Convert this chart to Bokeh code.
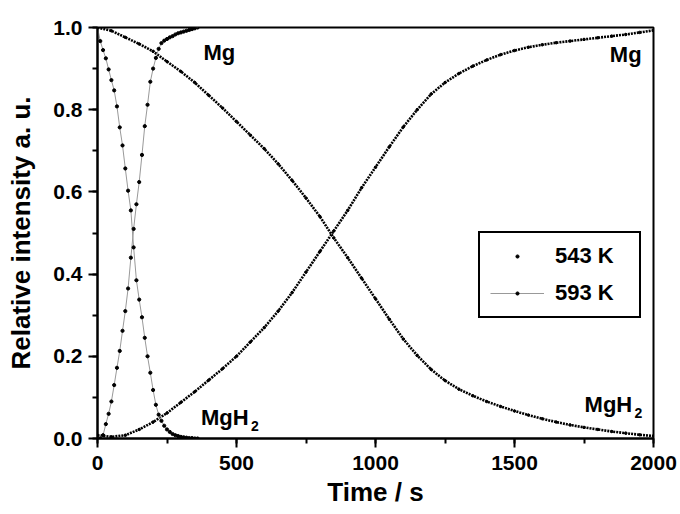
from bokeh.plotting import figure
from bokeh.models import (Legend, LegendItem, SingleIntervalTicker, PrintfTickFormatter, Range1d)
from bokeh.core.properties import value
from bokeh.embed import file_html
from bokeh.resources import INLINE

# ---- data ----
t543 = [0, 50, 100, 150, 200, 250, 300, 350, 400, 450, 500, 550, 600, 650, 700, 750, 800, 850,
        900, 950, 1000, 1050, 1100, 1150, 1200, 1250, 1300, 1350, 1400, 1450, 1500, 1550, 1600,
        1650, 1700, 1750, 1800, 1850, 1900, 1950, 2000]
mg_543 = [0.008, 0.004, 0.008, 0.022, 0.040, 0.062, 0.088, 0.114, 0.142, 0.170, 0.200, 0.235,
          0.270, 0.310, 0.355, 0.405, 0.455, 0.505, 0.555, 0.610, 0.660, 0.710, 0.758, 0.800,
          0.838, 0.866, 0.888, 0.906, 0.921, 0.934, 0.944, 0.952, 0.958, 0.963, 0.967, 0.971,
          0.975, 0.979, 0.983, 0.988, 0.993]
mgh2_543 = [1.0, 0.992, 0.976, 0.960, 0.942, 0.917, 0.893, 0.866, 0.835, 0.804, 0.771, 0.738,
            0.705, 0.668, 0.628, 0.585, 0.540, 0.488, 0.440, 0.390, 0.340, 0.290, 0.242, 0.202,
            0.168, 0.141, 0.120, 0.104, 0.090, 0.078, 0.067, 0.057, 0.048, 0.040, 0.033, 0.027,
            0.022, 0.017, 0.013, 0.009, 0.006]

t593_mgh2 = [0, 10, 20, 30, 40, 50, 60, 70, 80, 90, 100, 110, 120, 130, 140, 150, 160, 170, 180,
             190, 200, 210, 220, 230, 240, 250, 260, 270, 280, 290, 300, 310, 320, 330, 340, 350, 360]
mgh2_593 = [1.0, 0.967, 0.945, 0.925, 0.898, 0.872, 0.847, 0.808, 0.757, 0.713, 0.657, 0.603,
            0.555, 0.465, 0.385, 0.338, 0.295, 0.245, 0.200, 0.160, 0.118, 0.082, 0.058, 0.043,
            0.031, 0.022, 0.016, 0.011, 0.008, 0.006, 0.004, 0.003, 0.002, 0.001, 0.001, 0.0, 0.0]

t593_mg = [10, 20, 30, 40, 50, 60, 70, 80, 90, 100, 110, 120, 130, 140, 150, 160, 170, 180, 190,
           200, 210, 220, 230, 240, 250, 260, 270, 280, 290, 300, 310, 320, 330, 340, 350, 360]
mg_593 = [0.0, 0.008, 0.035, 0.060, 0.090, 0.130, 0.172, 0.213, 0.262, 0.310, 0.365, 0.440,
          0.510, 0.570, 0.624, 0.690, 0.760, 0.812, 0.868, 0.900, 0.926, 0.948, 0.962, 0.968,
          0.972, 0.976, 0.979, 0.983, 0.986, 0.988, 0.990, 0.992, 0.994, 0.996, 0.998, 1.0]

x_ticks_interval = 500
y_ticks_interval = 0.2
labels_text = ["Mg", "Mg", "MgH", "MgH"]
labels_x = [381, 1843, 372, 1752]
labels_y = [0.940, 0.935, 0.050, 0.082]
sub_text = ["2", "2"]

FONT = "Liberation Sans"

p = figure(frame_width=556, frame_height=411, output_backend="svg", toolbar_location=None,
           x_range=Range1d(0, 2000), y_range=Range1d(0, 1.0),
           min_border_left=97, min_border_right=27, min_border_top=27, min_border_bottom=74,
           background_fill_color="white", border_fill_color="white")

p.grid.visible = False
p.outline_line_color = "black"
p.outline_line_width = 2
p.outline_line_alpha = 1.0

for ax in (p.xaxis[0], p.yaxis[0]):
    ax.axis_line_width = 2
    ax.major_tick_line_width = 2
    ax.minor_tick_line_width = 2
    ax.major_tick_in = 0
    ax.major_tick_out = 9
    ax.minor_tick_in = 0
    ax.minor_tick_out = 5
    ax.major_label_text_font = FONT
    ax.major_label_text_font_style = "bold"
    ax.major_label_text_font_size = "21px"
    ax.major_label_text_color = "black"
    ax.axis_label_text_font = FONT
    ax.axis_label_text_font_style = "bold"
    ax.axis_label_text_font_size = "26px"
    ax.axis_label_text_color = "black"

p.xaxis.ticker = SingleIntervalTicker(interval=x_ticks_interval, num_minor_ticks=2)
p.yaxis.ticker = SingleIntervalTicker(interval=y_ticks_interval, num_minor_ticks=2)
p.yaxis.formatter = PrintfTickFormatter(format="%.1f")
p.xaxis.axis_label = "Time / s"
p.yaxis.axis_label = "Relative intensity a. u."
p.xaxis.major_label_standoff = 8
p.yaxis.major_label_standoff = 6
p.xaxis.axis_label_standoff = 4
p.yaxis.axis_label_standoff = 14

# 543 K : dense dots
p.line(t543, mg_543, line_color="black", line_width=2.6, line_dash="2 1")
p.line(t543, mgh2_543, line_color="black", line_width=2.6, line_dash="2 1")
s543a = p.scatter(t543, mg_543, size=2.5, color="black")
s543b = p.scatter(t543, mgh2_543, size=2.5, color="black")

# 593 K : dots with thin grey line
l593a = p.line(t593_mgh2, mgh2_593, line_color="#999999", line_width=1)
l593b = p.line(t593_mg, mg_593, line_color="#999999", line_width=1)
s593a = p.scatter(t593_mgh2, mgh2_593, size=3.2, color="black")
s593b = p.scatter(t593_mg, mg_593, size=3.2, color="black")

# annotations
p.text(x=labels_x, y=labels_y, text=labels_text, text_font=value(FONT),
       text_font_style="bold", text_font_size="22px", text_color="black",
       text_align="left", text_baseline="alphabetic")
p.text(x=[labels_x[2], labels_x[3]], y=[labels_y[2], labels_y[3]], text=sub_text,
       x_offset=50, y_offset=8, text_font=value(FONT), text_font_style="bold",
       text_font_size="14px", text_color="black", text_align="left",
       text_baseline="alphabetic")

legend = Legend(items=[LegendItem(label="543 K", renderers=[s543a]),
                       LegendItem(label="593 K", renderers=[l593a, s593a])],
                location=(381, 120), padding=10, spacing=11, margin=0,
                glyph_width=54, glyph_height=8, label_height=22, label_width=74,
                label_standoff=11,
                label_text_font=FONT, label_text_font_style="bold",
                label_text_font_size="22px", label_text_color="black",
                border_line_color="black", border_line_width=2, border_line_alpha=1.0,
                background_fill_color="white", background_fill_alpha=1.0)
p.add_layout(legend)

open("out.html", "w").write(file_html(p, INLINE))
